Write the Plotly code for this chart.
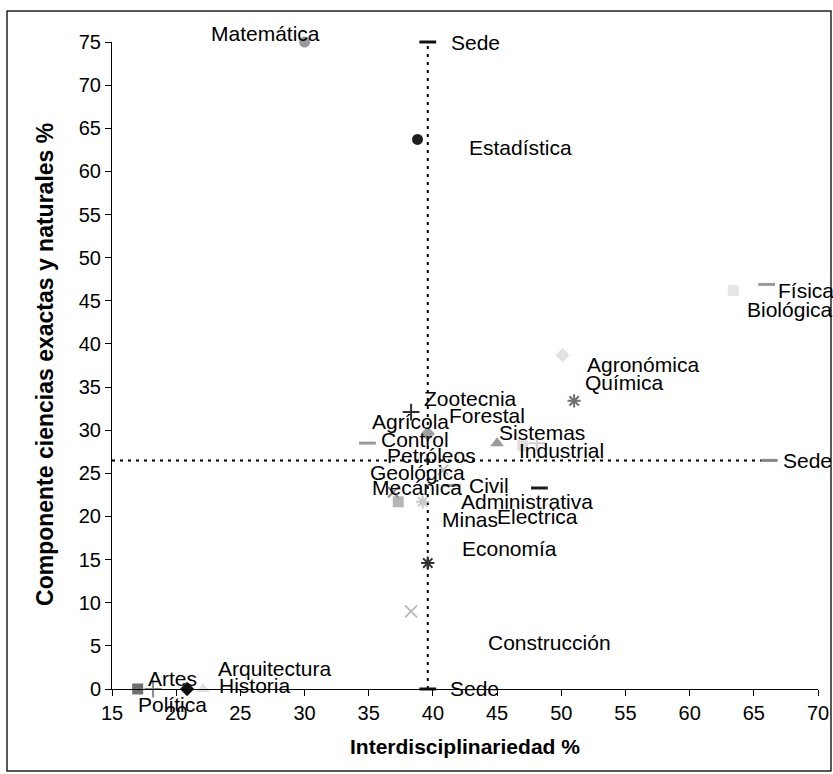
import plotly.graph_objects as go

# ---- data ----
carreras = ["Matemática", "Estadística", "Física", "Biológica", "Agronómica", "Química",
            "Zootecnia", "Forestal", "Control", "Sistemas", "Industrial", "Agrícola",
            "Petróleos", "Geológica", "Mecánica", "Civil", "Administrativa", "Minas",
            "Electrica", "Economía", "Construcción", "Artes", "Política", "Arquitectura",
            "Historia"]
interdisciplinariedad = [30.0, 38.8, 66.0, 63.4, 50.1, 51.0,
                         38.3, 39.6, 34.9, 45.0, 47.0, 48.1,
                         39.6, 40.8, 37.3, 41.5, 48.3, 39.2,
                         36.9, 39.6, 38.3, 17.0, 18.2, 20.85,
                         22.1]
componente_cen = [75.0, 63.7, 46.9, 46.2, 38.7, 33.4,
                  32.1, 29.6, 28.5, 28.5, 28.2, 28.5,
                  26.5, 25.4, 21.7, 23.6, 23.3, 21.7,
                  22.8, 14.6, 9.0, 0.0, 0.0, 0.0,
                  0.0]
sede_x = 39.6
sede_y = 26.5
sede_x_max = 66.2
y_min, y_max = 0, 75
x_min = 15
x_ticks = list(range(15, 75, 5))
y_ticks = list(range(0, 80, 5))

# ---- styles (per point) ----
symbols = ["circle", "circle", "line-ew", "square", "diamond", "asterisk",
           "cross-thin", "diamond", "line-ew", "triangle-up", "square", "cross-thin",
           "circle", "x-thin", "square", "line-ew", "line-ew", "asterisk",
           "x-thin", "asterisk", "x-thin", "square", "cross-thin", "diamond",
           "triangle-up"]
colors = ["#9a9a9a", "#1e1e1e", "#999999", "#e6e6e6", "#e2e2e2", "#707070",
          "#303030", "#a0a0a0", "#999999", "#9a9a9a", "#e0e0e0", "#cfcfcf",
          "#303030", "#bdbdbd", "#b5b5b5", "#999999", "#1e1e1e", "#c8c8c8",
          "#8a8a8a", "#303030", "#bbbbbb", "#707070", "#8a8a8a", "#111111",
          "#e2e2e2"]
sizes = [11, 11, 12, 11, 11, 11,
         12, 11, 12, 12, 11, 12,
         5, 10, 11, 12, 12, 11,
         10, 11, 12, 11, 12, 11,
         12]
open_syms = {"line-ew", "cross-thin", "x-thin", "asterisk"}
line_w = [3 if s == "line-ew" else (2 if s in open_syms else 0) for s in symbols]

# label offsets in pixels (dx, dy)
label_off = [(-96, 9), (49, -8), (9, -6), (12, -19), (22, -9), (9, 18),
             (11, 14), (19, 18), (12, 4), (0, 11), (-6, -5), (-167, 22),
             (-43, 5), (-75, -3), (-28, 14), (15, 0), (-80, -13), (17, -18),
             (102, -24), (32, 15), (75, -31), (8, 11), (-17, -15), (29, 21),
             (14, 4)]

FONT = "Liberation Sans, Arial, sans-serif"

fig = go.Figure()

# reference lines (Sede)
fig.add_trace(go.Scatter(x=[sede_x, sede_x], y=[y_min, y_max], mode="lines",
                         line=dict(color="black", width=2, dash="3px,5px"),
                         hoverinfo="skip", showlegend=False, cliponaxis=False))
fig.add_trace(go.Scatter(x=[x_min, sede_x_max], y=[sede_y, sede_y], mode="lines",
                         line=dict(color="black", width=2, dash="3px,5px"),
                         hoverinfo="skip", showlegend=False, cliponaxis=False))
fig.add_trace(go.Scatter(x=[sede_x, sede_x_max, sede_x], y=[y_max, sede_y, y_min],
                         mode="markers",
                         marker=dict(symbol="line-ew", size=12, opacity=1,
                                     line=dict(color=["#111111", "#888888", "#111111"], width=3)),
                         showlegend=False, cliponaxis=False))

fig.add_trace(go.Scatter(
    x=interdisciplinariedad, y=componente_cen, mode="markers",
    marker=dict(symbol=symbols, color=colors, size=sizes, opacity=1,
                line=dict(color=colors, width=line_w)),
    text=carreras, showlegend=False, cliponaxis=False))

annotations = []
for name, xv, yv, (dx, dy) in zip(carreras, interdisciplinariedad, componente_cen, label_off):
    annotations.append(dict(x=xv, y=yv, xref="x", yref="y", text=name, showarrow=False,
                            xanchor="left", yanchor="middle", xshift=dx, yshift=dy,
                            font=dict(family=FONT, size=21, color="black")))
for xv, yv, dx, dy in [(sede_x, y_max, 21, 0), (sede_x_max, sede_y, 12, 0), (sede_x, y_min, 20, 1)]:
    annotations.append(dict(x=xv, y=yv, xref="x", yref="y", text="Sede", showarrow=False,
                            xanchor="left", yanchor="middle", xshift=dx, yshift=dy,
                            font=dict(family=FONT, size=21, color="black")))

# axis titles
annotations.append(dict(x=0.5, y=-0.0881, xref="paper", yref="paper",
                        text="<b>Interdisciplinariedad %</b>", showarrow=False,
                        xanchor="center", yanchor="middle",
                        font=dict(family=FONT, size=21, color="black")))
annotations.append(dict(x=-0.0949, y=0.5008, xref="paper", yref="paper",
                        text="<b>Componente ciencias exactas y naturales %</b>", showarrow=False,
                        xanchor="center", yanchor="middle", textangle=-90,
                        font=dict(family=FONT, size=23, color="black")))

fig.update_layout(
    width=833, height=774,
    margin=dict(l=112, r=15, t=42, b=85),
    paper_bgcolor="white", plot_bgcolor="white",
    font=dict(family=FONT, color="black"),
    annotations=annotations,
    shapes=[dict(type="rect", xref="paper", yref="paper",
                 x0=-0.1487, x1=1.0184, y0=-0.1267, y1=1.0479,
                 line=dict(color="#222222", width=1.5))],
    xaxis=dict(range=[15, 70], tickvals=x_ticks, showline=True, linecolor="black",
               linewidth=1, ticks="outside", ticklen=6, tickcolor="black",
               showgrid=False, zeroline=False, tickfont=dict(size=20),
               automargin=False),
    yaxis=dict(range=[0, 75], tickvals=y_ticks, showline=True, linecolor="black",
               linewidth=1, ticks="outside", ticklen=6, tickcolor="black",
               showgrid=False, zeroline=False, tickfont=dict(size=20),
               automargin=False),
)

fig.write_html("out.html", config={"displayModeBar": False},
               post_script="document.body.style.margin='0px';document.body.style.padding='0px';")
